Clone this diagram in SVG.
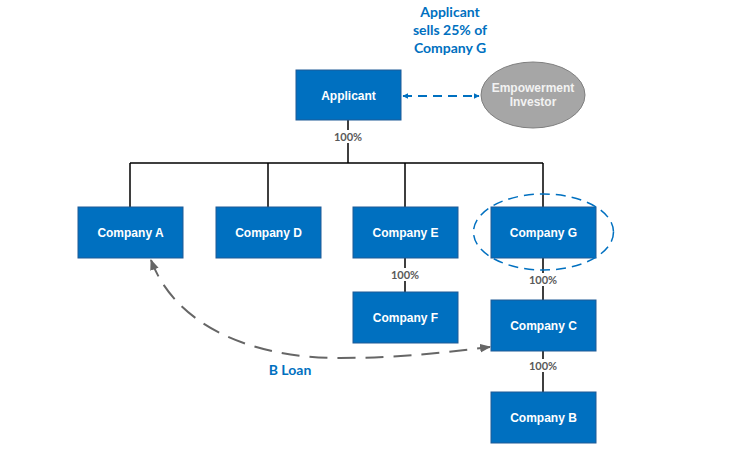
<svg xmlns="http://www.w3.org/2000/svg" width="750" height="457" viewBox="0 0 750 457">
<style>
.box{fill:#0070C0;stroke:#1F5A96;stroke-width:1}
.bt{font-family:"Liberation Sans",Arial,sans-serif;font-weight:bold;font-size:12px;fill:#fff;text-anchor:middle}
.ln{stroke:#000;stroke-width:1.5;fill:none}
.pct{font-family:Lato,"Liberation Sans",sans-serif;font-weight:bold;font-size:11px;fill:#595959;text-anchor:middle}
.lbl{font-family:Lato,"Liberation Sans",sans-serif;font-weight:bold;font-size:14px;fill:#0070C0;text-anchor:middle}
</style>
<defs>
<marker id="ab" viewBox="0 0 10 10" refX="9" refY="5" markerWidth="6" markerHeight="6" orient="auto-start-reverse" markerUnits="userSpaceOnUse">
<path d="M0,0 L10,5 L0,10 z" fill="#0070C0"/>
</marker>
<marker id="ag" viewBox="0 0 10 10" refX="9" refY="5" markerWidth="11" markerHeight="11" orient="auto-start-reverse" markerUnits="userSpaceOnUse">
<path d="M0,1 L10,5 L0,9 z" fill="#666"/>
</marker>
</defs>
<rect width="750" height="457" fill="#fff"/>
<g id="connectors">
<path class="ln" d="M348,120 V163 M130,163 H543 M130,163 V207 M268,163 V207 M405,163 V207 M543,163 V207 M405,258 V292 M543,258 V300 M543,351 V392"/>
<line x1="403" y1="96" x2="479" y2="96" stroke="#0070C0" stroke-width="2" stroke-dasharray="9,6" marker-start="url(#ab)" marker-end="url(#ab)"/>
<path d="M151,260 C175,325 250,358 340,358 C400,358 450,352 490,347" fill="none" stroke="#666" stroke-width="2" stroke-dasharray="18,10" marker-start="url(#ag)" marker-end="url(#ag)"/>
<rect x="334" y="130" width="28" height="13" fill="#fff"/>
<text class="pct" x="348" y="141">100%</text>
<rect x="391" y="268" width="28" height="13" fill="#fff"/>
<text class="pct" x="405" y="279">100%</text>
<rect x="529" y="273" width="28" height="13" fill="#fff"/>
<text class="pct" x="543" y="284">100%</text>
<rect x="529" y="359" width="28" height="13" fill="#fff"/>
<text class="pct" x="543" y="370">100%</text>
<text class="lbl" x="290" y="375" font-size="13">B Loan</text>
</g>
<g id="label-top">
<text class="lbl" x="450" y="17">Applicant</text>
<text class="lbl" x="450" y="35">sells 25% of</text>
<text class="lbl" x="450" y="53">Company G</text>
</g>
<g id="applicant"><rect class="box" x="296" y="70" width="105" height="50"/><text class="bt" x="348.5" y="99.5">Applicant</text></g>
<g id="investor"><ellipse cx="533" cy="95" rx="52" ry="33" fill="#A6A6A6" stroke="#7F7F7F" stroke-width="1"/><text class="bt" x="533" y="92" style="fill:#F2F2F2">Empowerment</text><text class="bt" x="533" y="106" style="fill:#F2F2F2">Investor</text></g>
<g id="company-a"><rect class="box" x="78" y="207" width="105" height="51"/><text class="bt" x="130.5" y="237">Company A</text></g>
<g id="company-d"><rect class="box" x="216" y="207" width="105" height="51"/><text class="bt" x="268.5" y="237">Company D</text></g>
<g id="company-e"><rect class="box" x="353" y="207" width="105" height="51"/><text class="bt" x="405.5" y="237">Company E</text></g>
<g id="company-g"><rect class="box" x="491" y="207" width="105" height="51"/><text class="bt" x="543.5" y="237">Company G</text>
<ellipse cx="543.5" cy="232" rx="70" ry="38" fill="none" stroke="#0070C0" stroke-width="1.5" stroke-dasharray="10,6"/></g>
<g id="company-f"><rect class="box" x="353" y="292" width="105" height="51"/><text class="bt" x="405.5" y="322">Company F</text></g>
<g id="company-c"><rect class="box" x="491" y="300" width="105" height="51"/><text class="bt" x="543.5" y="330">Company C</text></g>
<g id="company-b"><rect class="box" x="491" y="392" width="105" height="51"/><text class="bt" x="543.5" y="422">Company B</text></g>
</svg>
